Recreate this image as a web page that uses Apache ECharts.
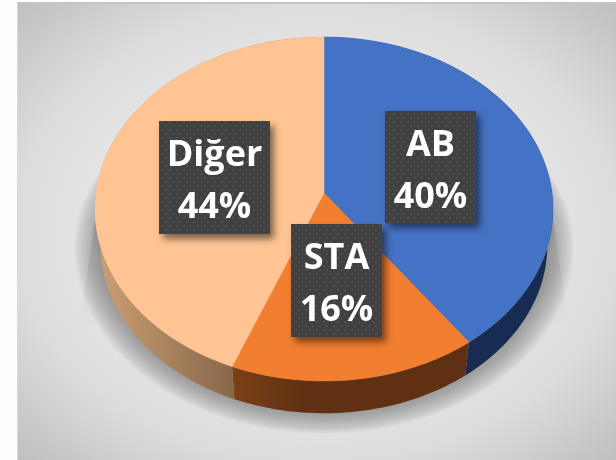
<!DOCTYPE html>
<html><head><meta charset="utf-8">
<style>
html,body{margin:0;padding:0;width:616px;height:460px;overflow:hidden;background:#fdfdff}
#bg{position:absolute;left:17px;top:2px;width:599px;height:458px;box-sizing:border-box;border-top:2px solid #c4c4c4;border-left:1px solid #d8d8d8;
background:radial-gradient(ellipse farthest-corner at 50% 50%,#f2f2f2 0%,#e8e8e8 45%,#dcdcdc 72%,#bfbfbf 100%)}
#c{position:absolute;left:0;top:0;width:616px;height:460px}
</style>
<script src="https://cdn.jsdelivr.net/npm/echarts@6/dist/echarts.min.js"></script>
</head><body><div id="bg"></div><div id="c"></div>
<script>
const categories = ['AB', 'STA', 'Diğer'];
const values = [40, 16, 44];
const topColors = ['#4472c4', '#f27e30', '#fec493'];
const sideStops = [
  [[0,'#182c52'],[1,'#182c52']],
  [[0,'#7a4017'],[0.3,'#5f3012'],[1,'#5f3012']],
  [[0,'#cb9e74'],[1,'#876749']]
];
const labelBoxes = [[385,111,91,112],[291,224,91,113],[159,121,111,113]];

const cx=324, cy=193, A=228, B=170.5, k=0.093, depth=37, shrink=0.975;
function proj(deg, bottom){
  const t=deg*Math.PI/180, u=Math.sin(t), v=-Math.cos(t), w=1-k*v;
  const s=bottom?shrink:1;
  return [cx+s*A*u/w, cy+s*B*v/w+(bottom?depth:0)];
}
function arc(a0,a1,bottom){
  const pts=[], n=Math.max(2,Math.ceil((a1-a0)/1.5));
  for(let i=0;i<=n;i++) pts.push(proj(a0+(a1-a0)*i/n,bottom));
  return pts;
}
const total=values.reduce((a,b)=>a+b,0);
const pat=document.createElement('canvas');pat.width=7;pat.height=8;
const g=pat.getContext('2d');g.fillStyle='#404040';g.fillRect(0,0,7,8);
g.fillStyle='#4f4f4f';g.fillRect(1,1,2,2);g.fillRect(4,5,2,2);

const chart=echarts.init(document.getElementById('c'),null,{renderer:'canvas'});
chart.setOption({
  animation:false,
  backgroundColor:'transparent',
  xAxis:{show:false},yAxis:{show:false},
  series:[{
    type:'custom',coordinateSystem:'none',silent:true,
    data:values.map((v,i)=>({name:categories[i],value:[v,i]})),
    renderItem(params,api){
      const i=params.dataIndex;
      let before=0;for(let j=0;j<i;j++)before+=values[j];
      const a0=before/total*360,a1=(before+api.value(0))/total*360;
      const topArc=arc(a0,a1,false),botArc=arc(a0,a1,true);
      const b=labelBoxes[i];
      const pct=Math.round(api.value(0)/total*100)+'%';
      const children=[];
      if(i===0){
        children.push({type:'polygon',z2:-2,shape:{points:[[97,205],[80,325],[568,325],[551,205]]},
          style:{fill:new echarts.graphic.LinearGradient(0,205,0,325,[
            {offset:0,color:'rgba(165,165,165,0.6)'},{offset:1,color:'rgba(185,185,185,0)'}],true)}});
        const disc=arc(0,360,true);
        for(let j=20;j>=1;j--){
          const fx=1+j*1.3/222, dy=j*1.0;
          children.push({type:'polygon',z2:-1,shape:{points:disc.map(p=>[cx+(p[0]-cx)*fx,p[1]+dy*Math.max(0,(p[1]-cy-depth)/180)])},
            style:{fill:'rgba(100,100,100,0.038)'}});
        }
      }
      const xs=botArc.filter(p=>p[1]>cy+depth).map(p=>p[0]);
      children.push({type:'polygon',z2:1,shape:{points:topArc.concat(botArc.slice().reverse())},
        style:{fill:new echarts.graphic.LinearGradient(Math.min(...xs),0,Math.max(...xs),0,sideStops[i].map(s=>({offset:s[0],color:s[1]})),true)}});
      children.push({type:'polygon',z2:5,shape:{points:[[cx,cy]].concat(topArc)},
        style:{fill:topColors[i],stroke:topColors[i],lineWidth:0.5}});
      children.push({type:'rect',z2:10,shape:{x:b[0],y:b[1],width:b[2],height:b[3]},
        style:{fill:{image:pat,repeat:'repeat'},shadowBlur:7,shadowOffsetX:4,shadowOffsetY:5,shadowColor:'rgba(0,0,0,0.5)'}});
      const tc=b[0]+b[2]/2;
      children.push({type:'text',z2:11,style:{x:tc,y:b[1]+35,text:categories[api.value(1)],fill:'#fff',font:'700 36px "Open Sans"',align:'center',verticalAlign:'middle'}});
      children.push({type:'text',z2:11,style:{x:tc,y:b[1]+87,text:pct,fill:'#fff',font:'700 36px "Open Sans"',align:'center',verticalAlign:'middle'}});
      return {type:'group',children};
    }
  }]
});
</script></body></html>
